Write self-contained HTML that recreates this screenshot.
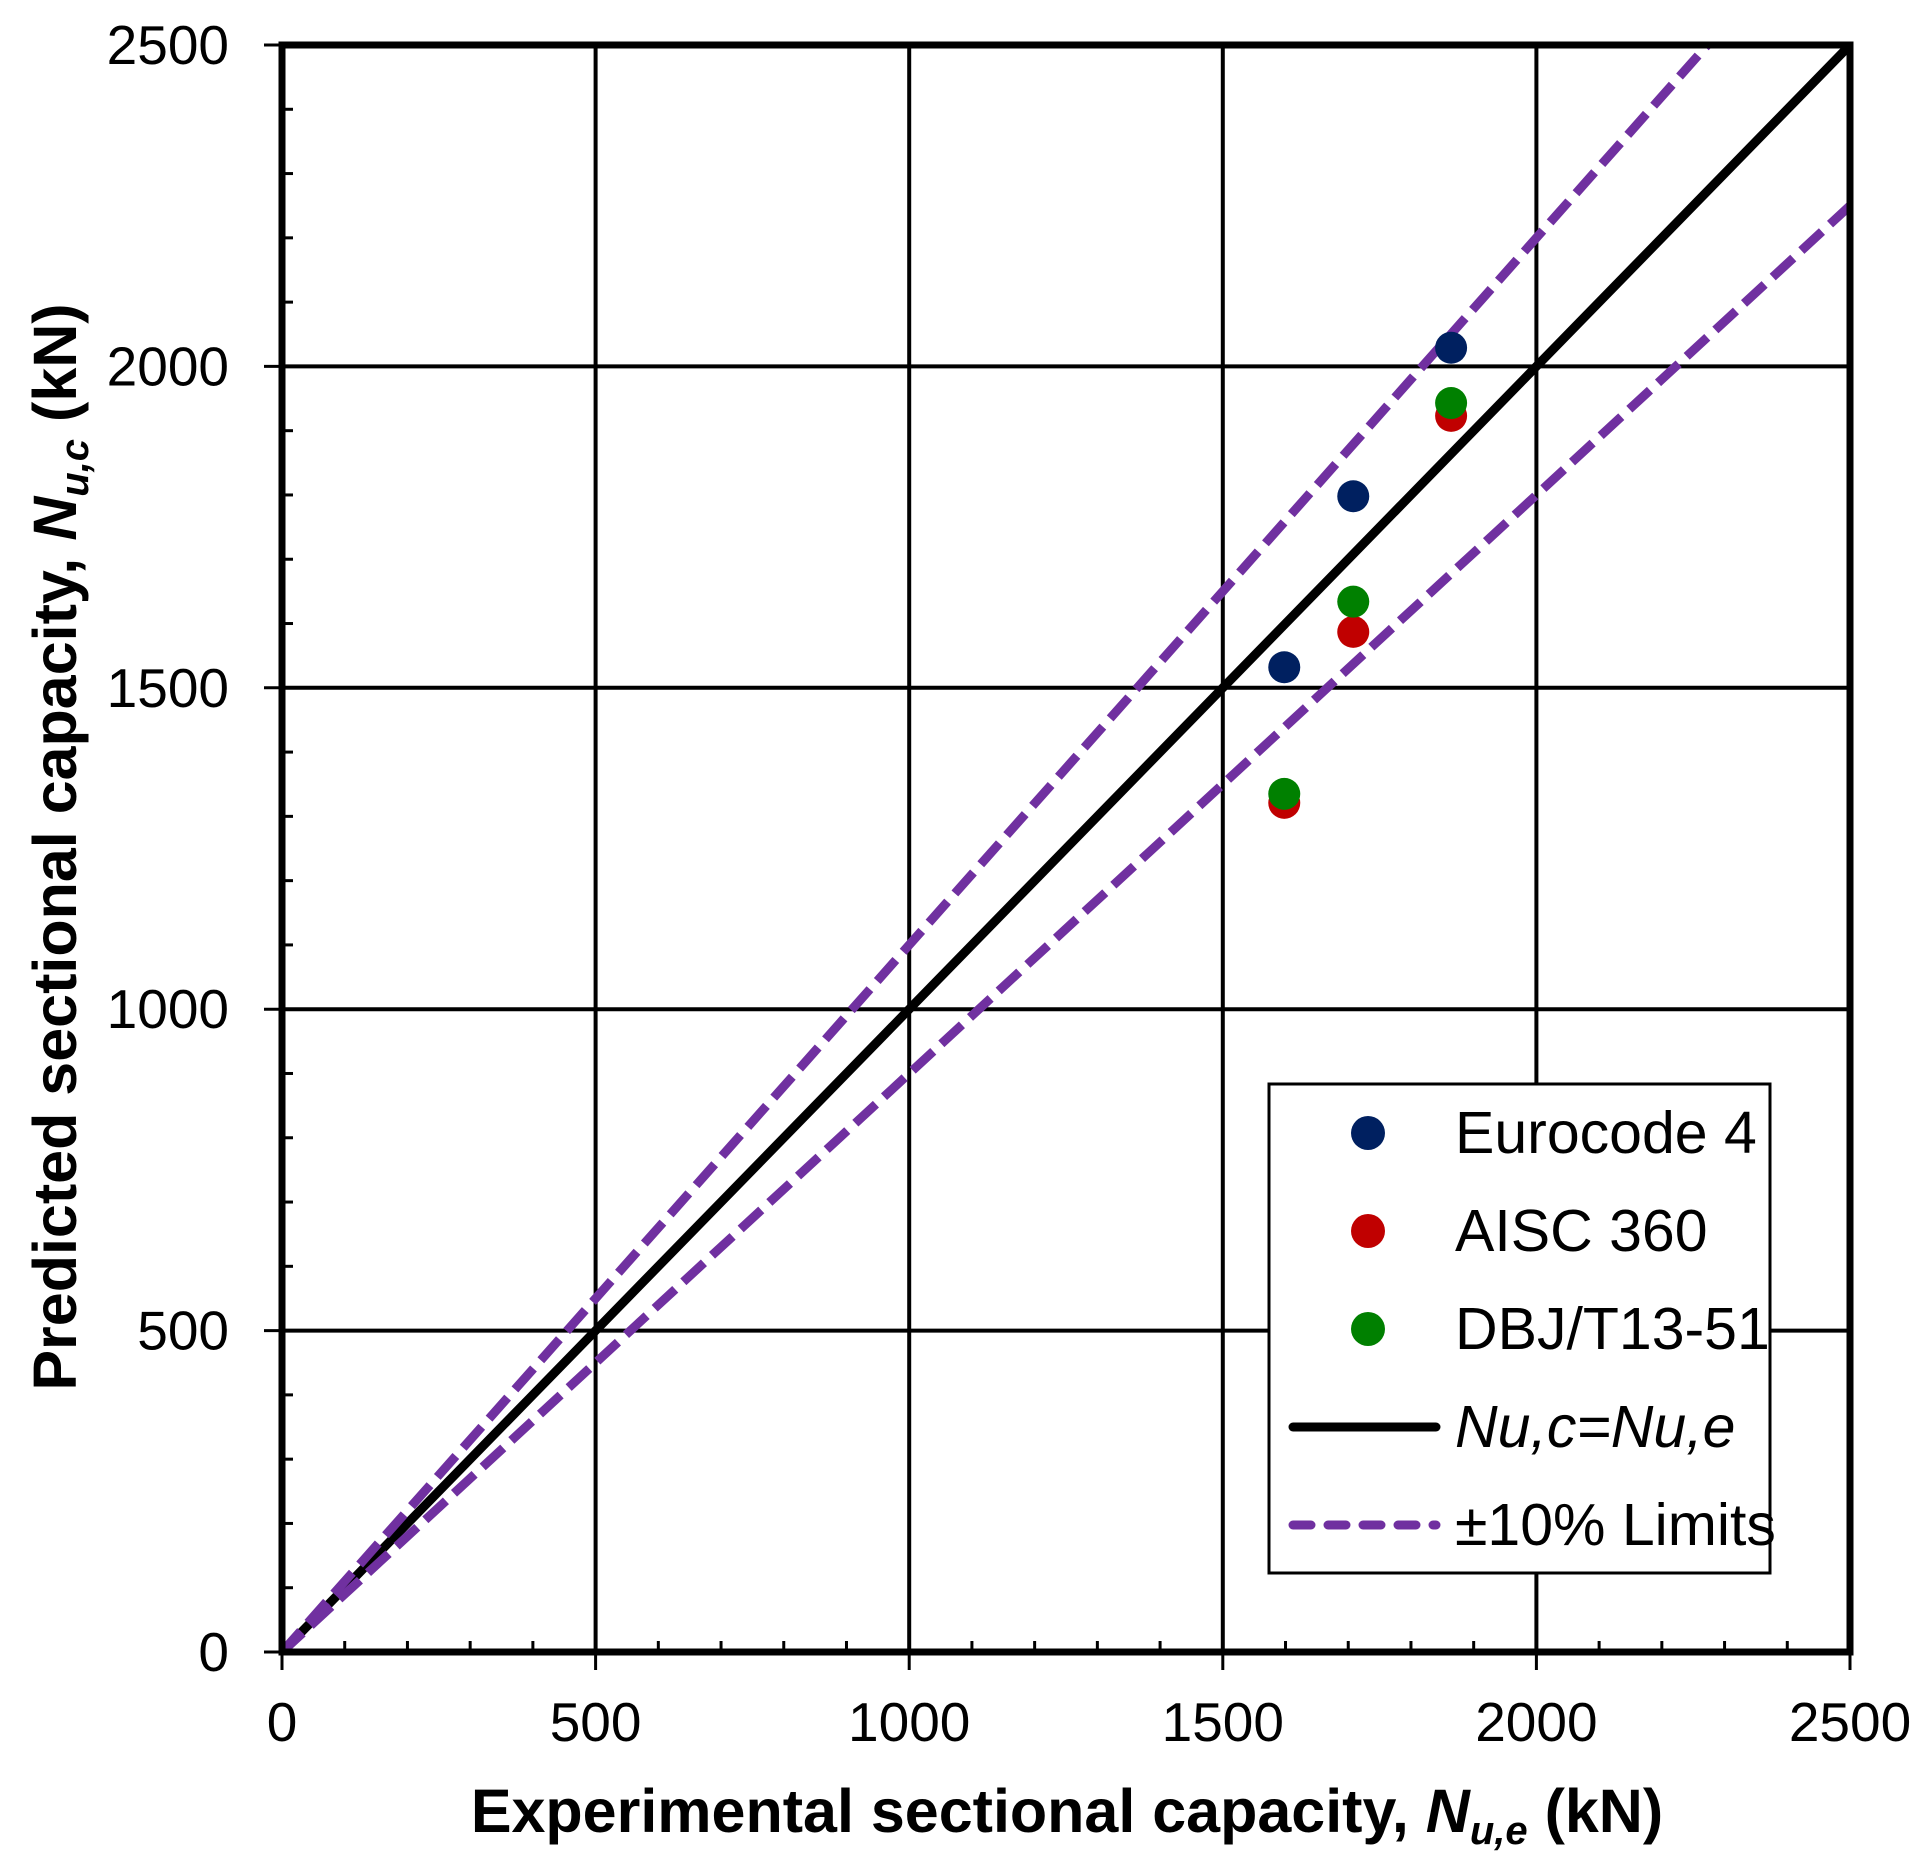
<!DOCTYPE html>
<html><head><meta charset="utf-8"><style>
html,body{margin:0;padding:0;background:#fff;}
svg{display:block;font-family:"Liberation Sans",Arial,sans-serif;}
</style></head><body>
<svg id="chart" width="1931" height="1862" viewBox="0 0 1931 1862" xmlns="http://www.w3.org/2000/svg">
<rect x="0" y="0" width="1931" height="1862" fill="#fff"/>
<g id="grid"></g>
<g id="lines"></g>
<g id="points"></g>
<g id="axes"></g>
<g id="legend">
  <rect x="1269" y="1084" width="501" height="489" fill="#fff" stroke="#000" stroke-width="3"/>
  <circle cx="1368" cy="1133" r="17" fill="#002060"/>
  <text x="1455" y="1153" font-size="59">Eurocode 4</text>
  <circle cx="1368" cy="1231" r="17" fill="#C00000"/>
  <text x="1455" y="1251" font-size="59">AISC 360</text>
  <circle cx="1368" cy="1329" r="17" fill="#008000"/>
  <text x="1455" y="1349" font-size="59">DBJ/T13-51</text>
  <line x1="1293" y1="1427" x2="1436" y2="1427" stroke="#000" stroke-width="9" stroke-linecap="round"/>
  <text x="1455" y="1447" font-size="59" font-style="italic">Nu,c=Nu,e</text>
  <line x1="1293" y1="1525" x2="1436" y2="1525" stroke="#7030A0" stroke-width="9" stroke-linecap="round" stroke-dasharray="18 17"/>
  <text x="1455" y="1545" font-size="59">±10% Limits</text>
</g>
<text x="1067" y="1832" font-size="61" font-weight="bold" text-anchor="middle">Experimental sectional capacity, <tspan font-style="italic">N</tspan><tspan font-style="italic" font-size="40" dy="12">u,e</tspan><tspan dy="-12"> (kN)</tspan></text>
<text transform="translate(76,847) rotate(-90)" font-size="61" font-weight="bold" text-anchor="middle">Predicted sectional capacity, <tspan font-style="italic">N</tspan><tspan font-style="italic" font-size="40" dy="12">u,c</tspan><tspan dy="-12"> (kN)</tspan></text>
</svg>
<script>
const xTicks = [0, 500, 1000, 1500, 2000, 2500];
const yTicks = [0, 500, 1000, 1500, 2000, 2500];
const tickLabels = ["0", "500", "1000", "1500", "2000", "2500"];
const expX = [1598, 1708, 1864];
const eurocode = [1532, 1798, 2029];
const aisc = [1321, 1587, 1923];
const dbj = [1335, 1634, 1943];
const limitFactors = [1.1, 0.9];

const L=282, R=1850, T=45, B=1652, MAX=2500;
function sx(v){return L+(R-L)*v/MAX;}
function sy(v){return B-(B-T)*v/MAX;}
const NS="http://www.w3.org/2000/svg";
function mk(tag, parent, attrs){const e=document.createElementNS(NS,tag);for(const k in attrs)e.setAttribute(k,attrs[k]);parent.appendChild(e);return e;}
const grid=document.getElementById('grid'), axes=document.getElementById('axes'), lines=document.getElementById('lines'), pts=document.getElementById('points');

xTicks.forEach((v,i)=>{
  if(v>0&&v<MAX){const g=mk('line',grid,{x1:sx(v),y1:T,x2:sx(v),y2:B,stroke:'#000','stroke-width':4});
  
  }
  const t=mk('line',axes,{x1:sx(v),y1:B,x2:sx(v),y2:B+18,stroke:'#000','stroke-width':3});
  
  
  const lb=mk('text',axes,{x:sx(v),y:B+89,'font-size':55,'text-anchor':'middle'});
  lb.textContent=tickLabels[i];
  
  
});
yTicks.forEach((v,i)=>{
  if(v>0&&v<MAX){const g=mk('line',grid,{x1:L,y1:sy(v),x2:R,y2:sy(v),stroke:'#000','stroke-width':4});
  
  }
  const t=mk('line',axes,{x1:L-18,y1:sy(v),x2:L,y2:sy(v),stroke:'#000','stroke-width':3});
  
  
  const lb=mk('text',axes,{x:229,y:sy(v)+19,'font-size':55,'text-anchor':'end'});
  lb.textContent=tickLabels[i];
  
  
});
for(let v=100;v<MAX;v+=100){
  if(v%500===0)continue;
  const a=mk('line',axes,{x1:sx(v),y1:B,x2:sx(v),y2:B-11,stroke:'#000','stroke-width':3});
  
  
  const b=mk('line',axes,{x1:L,y1:sy(v),x2:L+11,y2:sy(v),stroke:'#000','stroke-width':3});
  
  
}
const frame=mk('rect',axes,{x:L,y:T,width:R-L,height:B-T,fill:'none',stroke:'#000','stroke-width':7});



mk('clipPath',document.getElementById('chart'),{id:'pc'}).appendChild(document.createElementNS(NS,'rect'));
const cr=document.querySelector('#pc rect');cr.setAttribute('x',L);cr.setAttribute('y',T);cr.setAttribute('width',R-L);cr.setAttribute('height',B-T);
lines.setAttribute('clip-path','url(#pc)');
const eq=mk('line',lines,{x1:sx(0),y1:sy(0),x2:sx(MAX),y2:sy(MAX),stroke:'#000','stroke-width':9});


limitFactors.forEach(f=>{
  const ln=mk('line',lines,{x1:sx(0),y1:sy(0),x2:sx(MAX),y2:sy(MAX*f),stroke:'#7030A0','stroke-width':9,'stroke-dasharray':'28 11'});
  
  
});
function series(vals,color,name){
  vals.forEach((v,i)=>{
    const c=mk('circle',pts,{cx:sx(expX[i]),cy:sy(v),r:16,fill:color});
    
    
  });
}
series(eurocode,'#002060','eurocode-point');
series(aisc,'#C00000','aisc-point');
series(dbj,'#008000','dbj-point');
</script>
</body></html>
